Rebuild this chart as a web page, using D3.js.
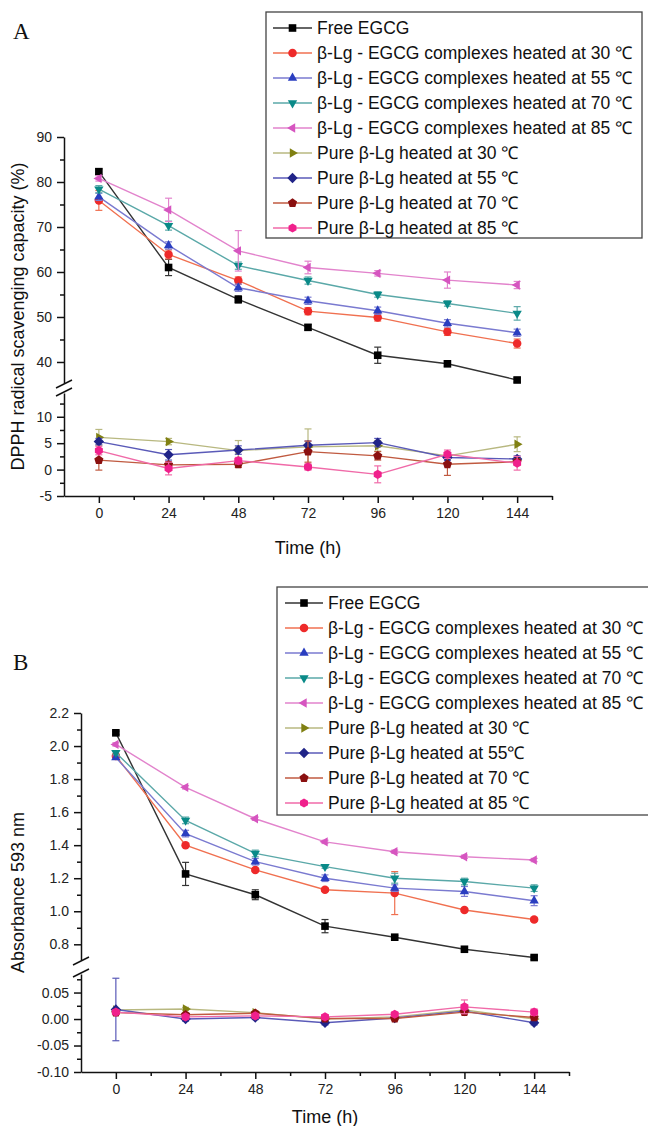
<!DOCTYPE html>
<html>
<head>
<meta charset="utf-8">
<script src="https://cdn.jsdelivr.net/npm/d3@7"></script>
<style>
  body { margin: 0; background: #fff; }
  text { font-family: "Liberation Sans", Arial, sans-serif; }
</style>
</head>
<body>
<div id="chart-region"></div>
<script>
const WIDTH = 648;
const HEIGHT = 1126;

// ---- data ----
const times = [0, 24, 48, 72, 96, 120, 144];
const timeMinor = [12, 36, 60, 84, 108, 132, 156];

const legendA = ["Free EGCG",
    "β-Lg - EGCG complexes heated at 30 ℃", "β-Lg - EGCG complexes heated at 55 ℃",
    "β-Lg - EGCG complexes heated at 70 ℃", "β-Lg - EGCG complexes heated at 85 ℃",
    "Pure β-Lg heated at 30 ℃", "Pure β-Lg heated at 55 ℃",
    "Pure β-Lg heated at 70 ℃", "Pure β-Lg heated at 85 ℃"];
const legendB = ["Free EGCG",
    "β-Lg - EGCG complexes heated at 30 ℃", "β-Lg - EGCG complexes heated at 55 ℃",
    "β-Lg - EGCG complexes heated at 70 ℃", "β-Lg - EGCG complexes heated at 85 ℃",
    "Pure β-Lg heated at 30 ℃", "Pure β-Lg heated at 55℃",
    "Pure β-Lg heated at 70 ℃", "Pure β-Lg heated at 85 ℃"];

// panel A : DPPH radical scavenging capacity (%)
const dpphFree = [82.3, 61.0, 53.9, 47.7, 41.5, 39.6, 36.0];
const dpphCx30 = [75.9, 63.9, 58.1, 51.3, 49.9, 46.7, 44.1];
const dpphCx55 = [76.7, 65.9, 56.5, 53.6, 51.4, 48.6, 46.5];
const dpphCx70 = [78.4, 70.3, 61.4, 58.1, 55.0, 53.0, 50.8];
const dpphCx85 = [80.8, 73.8, 64.7, 61.0, 59.7, 58.2, 57.1];
const dpphPure30 = [6.1, 5.3, 3.6, 4.3, 4.5, 2.6, 4.8];
const dpphPure55 = [5.3, 2.8, 3.7, 4.6, 5.1, 2.3, 2.0];
const dpphPure70 = [1.8, 0.9, 1.0, 3.4, 2.6, 1.0, 1.5];
const dpphPure85 = [3.6, 0.2, 1.7, 0.5, -0.9, 2.9, 1.2];

const dpphFreeErr = [0.6, 1.8, 0.8, 0.6, 1.8, 0.6, 0.5];
const dpphCx30Err = [2.2, 1.0, 0.8, 0.8, 0.8, 0.8, 1.0];
const dpphCx55Err = [0.8, 0.8, 0.8, 0.8, 0.8, 0.8, 0.8];
const dpphCx70Err = [0.8, 1.0, 0.8, 0.8, 0.6, 0.6, 1.5];
const dpphCx85Err = [0.6, 2.6, 4.5, 1.4, 0.6, 1.8, 0.8];
const dpphPure30Err = [1.5, 0.6, 1.9, 3.4, 1.0, 0.6, 1.4];
const dpphPure55Err = [0.6, 1.0, 0.8, 0.8, 0.8, 0.6, 0.6];
const dpphPure70Err = [1.9, 0.6, 0.6, 2.0, 0.8, 2.1, 0.5];
const dpphPure85Err = [0.8, 1.2, 0.6, 0.6, 1.6, 0.8, 1.3];

const dpphHiTicks = [40, 50, 60, 70, 80, 90];
const dpphHiMinor = [45, 55, 65, 75, 85];
const dpphLoTicks = [-5, 0, 5, 10];
const dpphLoMinor = [-2.5, 2.5, 7.5, 12.5];

// panel B : Absorbance 593 nm
const absFree = [2.08, 1.226, 1.10, 0.91, 0.843, 0.77, 0.72];
const absCx30 = [1.94, 1.40, 1.25, 1.13, 1.11, 1.008, 0.95];
const absCx55 = [1.93, 1.47, 1.30, 1.20, 1.14, 1.12, 1.064];
const absCx70 = [1.96, 1.55, 1.35, 1.27, 1.20, 1.18, 1.14];
const absCx85 = [2.01, 1.75, 1.56, 1.42, 1.36, 1.33, 1.31];
const absPure30 = [0.017, 0.019, 0.012, 0.000, 0.004, 0.017, 0.000];
const absPure55 = [0.018, 0.000, 0.003, -0.007, 0.002, 0.015, -0.007];
const absPure70 = [0.012, 0.008, 0.011, 0.001, 0.001, 0.013, 0.003];
const absPure85 = [0.013, 0.004, 0.006, 0.004, 0.009, 0.023, 0.013];

const absFreeErr = [0.01, 0.07, 0.03, 0.04, 0.01, 0.01, 0.01];
const absCx30Err = [0.01, 0.01, 0.01, 0.01, 0.13, 0.01, 0.01];
const absCx55Err = [0.01, 0.02, 0.02, 0.02, 0.02, 0.03, 0.03];
const absCx70Err = [0.01, 0.02, 0.02, 0.01, 0.03, 0.02, 0.02];
const absCx85Err = [0.01, 0.01, 0.01, 0.01, 0.01, 0.01, 0.01];
const absPure30Err = [0.003, 0.003, 0.003, 0.003, 0.003, 0.003, 0.003];
const absPure55Err = [0.059, 0.004, 0.004, 0.004, 0.003, 0.004, 0.004];
const absPure70Err = [0.003, 0.003, 0.003, 0.003, 0.003, 0.003, 0.003];
const absPure85Err = [0.004, 0.004, 0.004, 0.004, 0.004, 0.013, 0.006];

const absHiTicks = [0.8, 1.0, 1.2, 1.4, 1.6, 1.8, 2.0, 2.2];
const absHiMinor = [0.9, 1.1, 1.3, 1.5, 1.7, 1.9, 2.1];
const absLoTicks = [-0.10, -0.05, 0.00, 0.05];
const absLoMinor = [-0.075, -0.025, 0.025, 0.075];

// ---- styles ----
const seriesStyle = [
    {shape: "square",   fill: "#000000", line: "#333333"},
    {shape: "circle",   fill: "#ee2a2a", line: "#f07050"},
    {shape: "triUp",    fill: "#2a3ec0", line: "#7a7ad0"},
    {shape: "triDown",  fill: "#0a8a88", line: "#5aa8a8"},
    {shape: "triLeft",  fill: "#d655c0", line: "#e283cc"},
    {shape: "triRight", fill: "#808012", line: "#b8b880"},
    {shape: "diamond",  fill: "#202488", line: "#5a5ab8"},
    {shape: "pentagon", fill: "#8a1010", line: "#c05a40"},
    {shape: "hexagon",  fill: "#f0208c", line: "#f06aa8"}
];

const chart = d3.select("#chart-region").append("svg")
    .attr("width", WIDTH)
    .attr("height", HEIGHT)
    .style("background", "#fff");

function polygon(n, r, start) {
    const pts = d3.range(n).map(i => {
        const a = start + i * 2 * Math.PI / n;
        return [r * Math.cos(a), r * Math.sin(a)];
    });
    return "M" + pts.map(p => p[0].toFixed(2) + "," + p[1].toFixed(2)).join("L") + "Z";
}

function markerPath(shape) {
    const deg = Math.PI / 180;
    switch (shape) {
        case "square": return "M-3.8,-3.8H3.8V3.8H-3.8Z";
        case "circle": return d3.symbol(d3.symbolCircle, Math.PI * 18)();
        case "triUp": return polygon(3, 5.4, -90 * deg);
        case "triDown": return polygon(3, 5.4, 90 * deg);
        case "triLeft": return polygon(3, 5.4, 180 * deg);
        case "triRight": return polygon(3, 5.4, 0);
        case "diamond": return polygon(4, 5.2, -90 * deg);
        case "pentagon": return polygon(5, 4.8, -90 * deg);
        default: return polygon(6, 4.6, -90 * deg);
    }
}

function styleAxis(ax, fontSize) {
    ax.selectAll("path, line").attr("stroke", "#111").attr("stroke-width", 1.5);
    ax.selectAll("text")
        .attr("fill", "#222")
        .style("font-size", fontSize + "px")
        .style("font-family", "'Liberation Sans', Arial, sans-serif");
}

function drawSeries(g, x, y, values, errors, style) {
    const pts = values.map((v, i) => ({t: times[i], v: v, e: errors[i]}));
    const line = d3.line().x(d => x(d.t)).y(d => y(d.v));

    g.append("path")
        .datum(pts)
        .attr("d", line)
        .attr("fill", "none")
        .attr("stroke", style.line)
        .attr("stroke-width", 1.4);

    // error bars
    const eb = g.append("g").attr("stroke", style.line).attr("stroke-width", 1.2);
    eb.selectAll("line.v").data(pts).enter().append("line")
        .attr("x1", d => x(d.t)).attr("x2", d => x(d.t))
        .attr("y1", d => y(d.v - d.e)).attr("y2", d => y(d.v + d.e));
    eb.selectAll("line.top").data(pts).enter().append("line")
        .attr("x1", d => x(d.t) - 3.5).attr("x2", d => x(d.t) + 3.5)
        .attr("y1", d => y(d.v + d.e)).attr("y2", d => y(d.v + d.e));
    eb.selectAll("line.bot").data(pts).enter().append("line")
        .attr("x1", d => x(d.t) - 3.5).attr("x2", d => x(d.t) + 3.5)
        .attr("y1", d => y(d.v - d.e)).attr("y2", d => y(d.v - d.e));

    // markers
    g.append("g").selectAll("path")
        .data(pts).enter().append("path")
        .attr("d", markerPath(style.shape))
        .attr("transform", d => `translate(${x(d.t)},${y(d.v)})`)
        .attr("fill", style.fill);
}

function drawLegend(names, L) {
    const lg = chart.append("g");
    lg.append("rect")
        .attr("x", L.x).attr("y", L.y)
        .attr("width", L.w).attr("height", L.h)
        .attr("fill", "white")
        .attr("stroke", "#444")
        .attr("stroke-width", 1.3);
    names.forEach((name, i) => {
        const cy = L.row0 + i * 25;
        const s = seriesStyle[i];
        lg.append("line")
            .attr("x1", L.lineX0).attr("x2", L.lineX1)
            .attr("y1", cy).attr("y2", cy)
            .attr("stroke", s.line).attr("stroke-width", 1.4);
        lg.append("path")
            .attr("d", markerPath(s.shape))
            .attr("transform", `translate(${(L.lineX0 + L.lineX1) / 2},${cy})`)
            .attr("fill", s.fill);
        lg.append("text")
            .attr("x", L.textX)
            .attr("y", cy)
            .attr("dy", "0.36em")
            .attr("font-size", "17.5px")
            .attr("fill", "#111")
            .text(name);
    });
}

function drawPanel(P) {
    const g = chart.append("g");
    const x = d3.scaleLinear().domain([-12, 156]).range([P.left, P.right]);
    const yHi = d3.scaleLinear().domain(P.hiDomain).range([P.hiBottom, P.top]);
    const yLo = d3.scaleLinear().domain(P.loDomain).range([P.bottom, P.loTop]);

    // x axis
    const xa = g.append("g")
        .attr("transform", `translate(0,${P.bottom})`)
        .call(d3.axisBottom(x).tickValues(times).tickSize(7).tickSizeOuter(0).tickPadding(5));
    styleAxis(xa, 14);
    const xm = g.append("g")
        .attr("transform", `translate(0,${P.bottom})`)
        .call(d3.axisBottom(x).tickValues(timeMinor).tickSize(4).tickFormat(""));
    xm.select(".domain").remove();
    styleAxis(xm, 14);

    // y axis, upper part
    const ya = g.append("g")
        .attr("transform", `translate(${P.left},0)`)
        .call(d3.axisLeft(yHi).tickValues(P.hiTicks).tickSize(7).tickSizeOuter(0).tickPadding(5)
            .tickFormat(d => d.toFixed(P.hiDigits)));
    styleAxis(ya, 14);
    const yam = g.append("g")
        .attr("transform", `translate(${P.left},0)`)
        .call(d3.axisLeft(yHi).tickValues(P.hiMinor).tickSize(4).tickFormat(""));
    yam.select(".domain").remove();
    styleAxis(yam, 14);

    // y axis, lower part
    const yb = g.append("g")
        .attr("transform", `translate(${P.left},0)`)
        .call(d3.axisLeft(yLo).tickValues(P.loTicks).tickSize(7).tickSizeOuter(0).tickPadding(5)
            .tickFormat(d => d.toFixed(P.loDigits)));
    styleAxis(yb, 14);
    const ybm = g.append("g")
        .attr("transform", `translate(${P.left},0)`)
        .call(d3.axisLeft(yLo).tickValues(P.loMinor).tickSize(4).tickFormat(""));
    ybm.select(".domain").remove();
    styleAxis(ybm, 14);

    // break marks
    [P.hiBottom + 1, P.loTop - 1].forEach(yy => {
        g.append("line")
            .attr("x1", P.left - 8).attr("y1", yy + 4)
            .attr("x2", P.left + 8).attr("y2", yy - 4)
            .attr("stroke", "#111").attr("stroke-width", 1.5);
    });

    // titles
    g.append("text")
        .attr("x", (P.left + P.right) / 2)
        .attr("y", P.xTitleY)
        .attr("text-anchor", "middle")
        .attr("font-size", "18px")
        .attr("fill", "#111")
        .text("Time (h)");
    g.append("text")
        .attr("transform", `translate(18,${(P.top + P.bottom) / 2}) rotate(-90)`)
        .attr("dy", "0.36em")
        .attr("text-anchor", "middle")
        .attr("font-size", "18px")
        .attr("fill", "#111")
        .text(P.yTitle);
    g.append("text")
        .attr("x", 13).attr("y", P.letterY)
        .attr("font-size", "23px")
        .style("font-family", "'Liberation Serif', 'Times New Roman', serif")
        .attr("fill", "#111")
        .text(P.letter);

    P.hi.forEach((s, i) => drawSeries(g, x, yHi, s[0], s[1], seriesStyle[i]));
    P.lo.forEach((s, i) => drawSeries(g, x, yLo, s[0], s[1], seriesStyle[i + 5]));
}

drawPanel({
    letter: "A", letterY: 39,
    left: 64, right: 552, top: 137, bottom: 496,
    hiBottom: 383, loTop: 393,
    hiDomain: [35.33, 90], loDomain: [-5, 14.5],
    hiTicks: dpphHiTicks, hiMinor: dpphHiMinor, hiDigits: 0,
    loTicks: dpphLoTicks, loMinor: dpphLoMinor, loDigits: 0,
    xTitleY: 554,
    yTitle: "DPPH radical scavenging capacity (%)",
    hi: [[dpphFree, dpphFreeErr], [dpphCx30, dpphCx30Err], [dpphCx55, dpphCx55Err],
         [dpphCx70, dpphCx70Err], [dpphCx85, dpphCx85Err]],
    lo: [[dpphPure30, dpphPure30Err], [dpphPure55, dpphPure55Err],
         [dpphPure70, dpphPure70Err], [dpphPure85, dpphPure85Err]]
});

drawPanel({
    letter: "B", letterY: 670,
    left: 81, right: 569, top: 713, bottom: 1072,
    hiBottom: 960, loTop: 974,
    hiDomain: [0.705, 2.2], loDomain: [-0.1, 0.085],
    hiTicks: absHiTicks, hiMinor: absHiMinor, hiDigits: 1,
    loTicks: absLoTicks, loMinor: absLoMinor, loDigits: 2,
    xTitleY: 1123,
    yTitle: "Absorbance 593 nm",
    hi: [[absFree, absFreeErr], [absCx30, absCx30Err], [absCx55, absCx55Err],
         [absCx70, absCx70Err], [absCx85, absCx85Err]],
    lo: [[absPure30, absPure30Err], [absPure55, absPure55Err],
         [absPure70, absPure70Err], [absPure85, absPure85Err]]
});

drawLegend(legendA, {x: 266, y: 12, w: 376, h: 226, row0: 28, lineX0: 273, lineX1: 312, textX: 317});
drawLegend(legendB, {x: 277, y: 587, w: 380, h: 228, row0: 603, lineX0: 285, lineX1: 323, textX: 328});
</script>
</body>
</html>
